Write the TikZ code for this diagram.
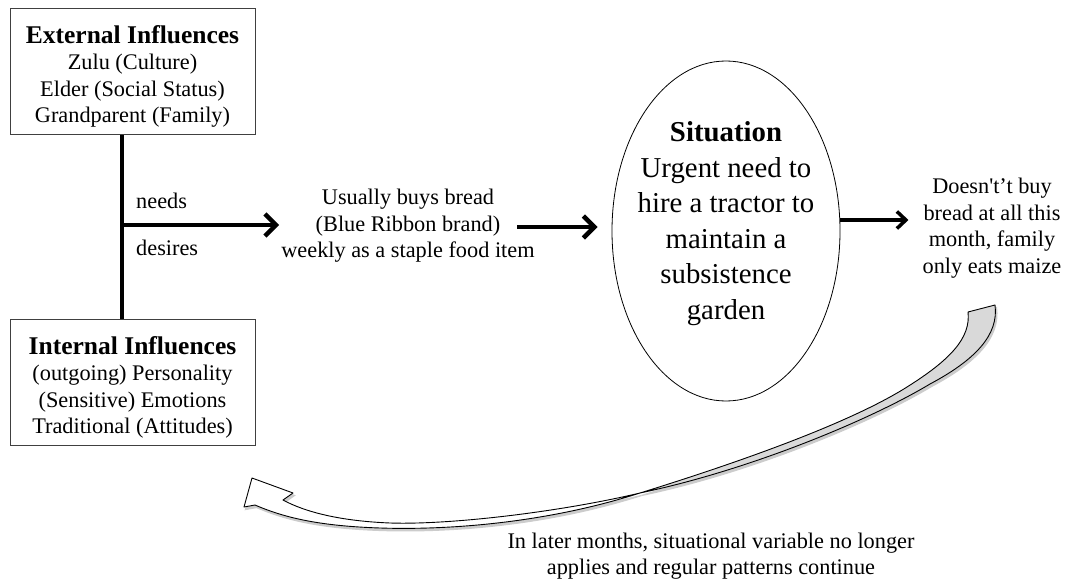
\documentclass[tikz,border=0pt]{standalone}
\usepackage{fontspec}
\setmainfont{Liberation Serif}
% a family without TeX ligatures, so that ' stays a straight apostrophe
\newfontfamily\plainserif{Liberation Serif}
\usetikzlibrary{shapes.geometric,arrows.meta,calc}

% outlines of the twisted return ribbon
\def\grayband{(995,305) .. controls (999,335) and (975,360) .. (930,384)
  .. controls (870,420) and (750,470) .. (640,493)
  .. controls (740,462) and (850,423) .. (907,387)
  .. controls (950,360) and (971,338) .. (968,312) -- cycle}
\def\whiteband{(640,493) .. controls (540,525) and (440,530) .. (380,528)
  .. controls (320,526) and (285,518) .. (255,505)
  -- (244,507) -- (252,478) -- (293,493) -- (283,500)
  .. controls (305,512) and (340,521) .. (390,523)
  .. controls (450,525) and (560,512) .. (640,493) -- cycle}

\begin{document}
\begin{tikzpicture}[x=1pt,y=-1pt,
  body/.style={font=\fontsize{22.3}{26.5}\selectfont},
  box/.style={draw=black!75, line width=1pt, fill=white,
    minimum width=245pt, minimum height=126pt, inner sep=0pt},
  boxtext/.style={body, align=center, inner sep=0pt},
  plain/.style={body, align=center, inner sep=2pt},
  situation/.style={ellipse, draw=black, line width=0.8pt, fill=white,
    minimum width=228pt, minimum height=340pt, inner sep=0pt},
  situationtext/.style={align=center, inner sep=0pt,
    font=\fontsize{28.8}{35.5}\selectfont},
  thickarrow/.style={line width=4.5pt, -{Straight Barb[length=11pt,width=22pt]}},
  thinarrow/.style={line width=3.5pt, -{Straight Barb[length=9pt,width=17pt]}},
  stemline/.style={line width=4.5pt},
  ribbonedge/.style={draw=black, line width=0.9pt, line join=round},
  ribbonshadow/.style={fill=black!20, draw=black!20, line width=1.2pt}
]
\useasboundingbox (0,0) rectangle (1068,580);
\fill[white] (0,0) rectangle (1068,580);

% influence boxes
\node[box] (ext) at (132.5,72) {};
\node[boxtext] (exttext) at (132.5,76.5) {{\bfseries\fontsize{25.5}{28}\selectfont External Influences}\\
  Zulu (Culture)\\ Elder (Social Status)\\ Grandparent (Family)};
\node[box] (int) at (132.5,382) {};
\node[boxtext] (inttext) at (132.5,387.5) {{\bfseries\fontsize{25.5}{28}\selectfont Internal Influences}\\
  (outgoing) Personality\\ (Sensitive) Emotions\\ Traditional (Attitudes)};

% stem joining the two boxes
\coordinate (stem) at (122,225);
\draw[stemline] (stem |- ext.south) -- (stem |- int.north);

\node[plain, anchor=west] (needs) at (134,201) {needs};
\node[plain, anchor=west] (desires) at (134,248) {desires};

% usual behaviour
\node[plain] (usual) at (408,226) {Usually buys bread\\ (Blue Ribbon brand)\\ weekly as a staple food item};
\draw[thickarrow] (stem) -- (stem -| usual.west);

% situation
\node[situation] (sit) at (726,231) {};
\node[situationtext] (sittext) at (726,223.6) {{\bfseries Situation}\\ Urgent need to\\ hire a tractor to\\ maintain a\\ subsistence\\ garden};
\draw[thickarrow] ($(usual.east)+(-19.5,1)$) -- ($(sit.west)+(-14,-4)$);

% outcome
\node[plain] (outcome) at (992,228) {Doesn{\plainserif'}t’t buy\\ bread at all this\\ month, family\\ only eats maize};
\draw[thinarrow] ($(sit.east)+(0,-11)$) -- ($(outcome.west)+(-12,-8)$);

% return ribbon: shadow, gray underside, white topside with head
\begin{scope}[shift={(1.5,2.5)}]
  \path[ribbonshadow] \grayband;
  \path[ribbonshadow] \whiteband;
\end{scope}
\path[ribbonedge, fill=black!15] \grayband;
\path[ribbonedge, fill=white] \whiteband;

\node[plain] (later) at (711,556) {In later months, situational variable no longer\\ applies and regular patterns continue};
\end{tikzpicture}
\end{document}
